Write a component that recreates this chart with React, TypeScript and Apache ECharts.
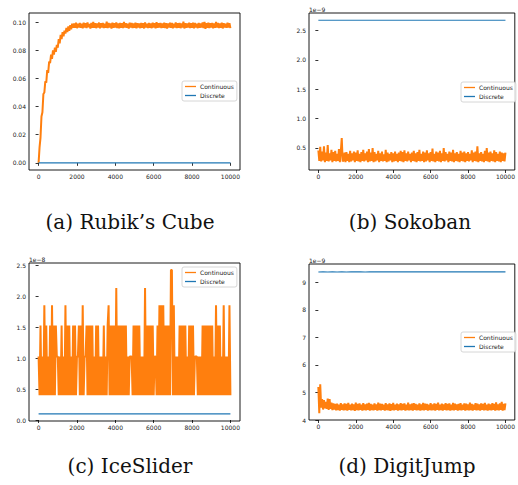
import React, { useEffect, useRef } from 'react';
import * as echarts from 'echarts';

// ---------- data ----------
const STEP = 50; // training step spacing of the sampled curves
const xTicks = [0, 2000, 4000, 6000, 8000, 10000];
const yTicksA = [0, 0.02, 0.04, 0.06, 0.08, 0.1];
const yTicksB = [0.5, 1.0, 1.5, 2.0, 2.5];
const yTicksC = [0, 0.5, 1.0, 1.5, 2.0, 2.5];
const yTicksD = [4, 5, 6, 7, 8, 9];
const captions = ['(a) Rubik\u2019s Cube', '(b) Sokoban', '(c) IceSlider', '(d) DigitJump'];
const offsetTexts = ['', '1e\u22129', '1e\u22128', '1e\u22129'];
const seriesNames = ['Continuous', 'Discrete'];

// Rubik's Cube – continuous
const continuousA = [
  0, 0.011, 0.018, 0.033, 0.036, 0.049, 0.050, 0.058, 0.057, 0.066,
  0.064, 0.072, 0.071, 0.077, 0.074, 0.080, 0.077, 0.082, 0.079, 0.084,
  0.082, 0.088, 0.085, 0.091, 0.088, 0.093, 0.090, 0.094, 0.092, 0.096,
  0.093, 0.097, 0.094, 0.098, 0.095, 0.099, 0.096,
  0.0992, 0.0961, 0.0998, 0.0958, 0.0989, 0.0963, 0.0995, 0.0960, 0.0990, 0.0957,
  0.0997, 0.0962, 0.0993, 0.0959, 0.0999, 0.0964, 0.0988, 0.0956, 0.0996, 0.0961,
  0.1003, 0.0960, 0.0994, 0.0958, 0.0991, 0.0963, 0.0998, 0.0957, 0.0993, 0.0962,
  0.0996, 0.0959, 0.0990, 0.0961, 0.1005, 0.0958, 0.0995, 0.0963, 0.0992, 0.0956,
  0.0997, 0.0960, 0.0993, 0.0962, 0.0999, 0.0959, 0.0991, 0.0957, 0.0996, 0.0961,
  0.0994, 0.0958, 0.1002, 0.0963, 0.0993, 0.0960, 0.0990, 0.0955, 0.0997, 0.0962,
  0.0995, 0.0959, 0.0992, 0.0961, 0.0998, 0.0957, 0.0994, 0.0963, 0.0991, 0.0958,
  0.0996, 0.0960, 0.0993, 0.0956, 0.0999, 0.0962, 0.0990, 0.0959, 0.0995, 0.0961,
  0.0992, 0.0958, 0.0997, 0.0963, 0.0994, 0.0957, 0.1001, 0.0960, 0.0993, 0.0962,
  0.0996, 0.0959, 0.0991, 0.0961, 0.0998, 0.0958, 0.0994, 0.0955, 0.0992, 0.0963,
  0.0997, 0.0960, 0.0995, 0.0957, 0.0990, 0.0962, 0.0999, 0.0959, 0.0993, 0.0961,
  0.0996, 0.0958, 0.0992, 0.0963, 0.1004, 0.0956, 0.0994, 0.0960, 0.0991, 0.0962,
  0.0997, 0.0959, 0.0993, 0.0961, 0.0998, 0.0957, 0.0995, 0.0963, 0.0990, 0.0958,
  0.0996, 0.0960, 0.0992, 0.0962, 0.0999, 0.0959, 0.1002, 0.0954, 0.0994, 0.0961,
  0.0997, 0.0958, 0.0993, 0.0963, 0.0995, 0.0957, 0.0991, 0.0960, 0.1003, 0.0962,
  0.0996, 0.0959, 0.0992, 0.0961, 0.0998, 0.0956, 0.0994, 0.0962, 0.0990, 0.0960,
  0.0997, 0.0963, 0.0993, 0.0958,
];

// Sokoban – continuous (×1e-9)
const continuousB = [
  0.46, 0.28, 0.52, 0.27, 0.44, 0.29, 0.53, 0.26, 0.42, 0.28,
  0.55, 0.27, 0.41, 0.29, 0.47, 0.26, 0.43, 0.28, 0.45, 0.27,
  0.40, 0.28, 0.48, 0.26, 0.44, 0.67, 0.27, 0.29, 0.42, 0.26,
  0.43, 0.28, 0.40, 0.26, 0.45, 0.27, 0.41, 0.29, 0.44, 0.26,
  0.42, 0.28, 0.46, 0.27, 0.40, 0.26, 0.43, 0.28, 0.47, 0.27,
  0.41, 0.29, 0.44, 0.26, 0.48, 0.27, 0.42, 0.28, 0.50, 0.26,
  0.43, 0.27, 0.40, 0.29, 0.45, 0.26, 0.41, 0.28, 0.44, 0.27,
  0.39, 0.28, 0.47, 0.26, 0.42, 0.27, 0.40, 0.29, 0.43, 0.26,
  0.41, 0.27, 0.44, 0.28, 0.40, 0.26, 0.42, 0.28, 0.45, 0.27,
  0.43, 0.26, 0.46, 0.28, 0.41, 0.27, 0.44, 0.29, 0.40, 0.26,
  0.42, 0.28, 0.45, 0.27, 0.41, 0.26, 0.43, 0.28, 0.47, 0.27,
  0.40, 0.28, 0.44, 0.26, 0.42, 0.27, 0.46, 0.29, 0.41, 0.26,
  0.43, 0.28, 0.49, 0.27, 0.40, 0.26, 0.44, 0.28, 0.42, 0.27,
  0.45, 0.26, 0.41, 0.28, 0.50, 0.27, 0.43, 0.29, 0.40, 0.26,
  0.44, 0.28, 0.42, 0.27, 0.47, 0.26, 0.41, 0.28, 0.43, 0.27,
  0.40, 0.26, 0.45, 0.28, 0.42, 0.27, 0.44, 0.26, 0.41, 0.28,
  0.43, 0.27, 0.40, 0.29, 0.46, 0.26, 0.42, 0.28, 0.44, 0.27,
  0.53, 0.26, 0.41, 0.28, 0.43, 0.27, 0.40, 0.26, 0.45, 0.28,
  0.50, 0.27, 0.42, 0.26, 0.44, 0.28, 0.41, 0.27, 0.46, 0.26,
  0.43, 0.28, 0.40, 0.27, 0.44, 0.26, 0.42, 0.28, 0.41, 0.27,
  0.42,
];

// IceSlider – continuous (×1e-8)
const continuousC = [
  1.03, 0.40, 1.53, 0.40, 1.03, 0.40, 1.86, 0.40, 1.53, 0.40,
  1.03, 0.40, 1.53, 0.40, 1.86, 0.40, 1.53, 0.40, 1.53, 1.03,
  1.03, 0.40, 1.03, 0.40, 1.53, 0.40, 1.03, 0.40, 1.86, 0.40,
  1.53, 0.40, 1.53, 0.40, 1.03, 0.40, 1.53, 0.40, 1.53, 0.40,
  1.03, 1.03, 1.53, 0.40, 1.53, 0.40, 1.86, 0.40, 1.03, 1.03,
  1.53, 0.40, 1.53, 0.40, 1.53, 0.40, 1.53, 0.40, 1.03, 0.40,
  1.53, 0.40, 1.53, 0.40, 1.03, 0.40, 1.03, 0.40, 1.53, 0.40,
  1.03, 0.40, 1.53, 1.86, 0.40, 1.53, 0.40, 1.53, 0.40, 1.53,
  0.40, 2.14, 0.40, 1.53, 0.40, 1.53, 0.40, 1.53, 0.40, 1.53,
  0.40, 1.53, 0.40, 1.03, 0.40, 1.03, 1.03, 1.03, 0.40, 1.53,
  0.40, 1.53, 0.40, 1.53, 0.40, 1.53, 0.40, 1.03, 0.40, 1.03,
  0.40, 2.14, 0.40, 1.53, 0.40, 1.53, 0.40, 1.53, 0.40, 1.53,
  0.40, 1.03, 1.03, 0.40, 1.53, 0.40, 1.86, 0.40, 1.86, 0.40,
  1.86, 0.40, 1.53, 0.40, 1.53, 0.40, 1.53, 0.40, 2.43, 2.43,
  0.40, 1.86, 0.40, 1.03, 0.40, 1.03, 0.40, 1.53, 0.40, 1.53,
  0.40, 1.53, 0.40, 1.53, 0.40, 1.03, 0.40, 1.53, 0.40, 1.53,
  0.40, 1.53, 0.40, 1.03, 1.03, 1.03, 0.40, 1.03, 0.40, 1.03,
  0.40, 1.53, 0.40, 1.53, 0.40, 1.53, 0.40, 1.53, 0.40, 1.53,
  0.40, 1.53, 0.40, 1.03, 0.40, 1.86, 0.40, 1.53, 0.40, 1.53,
  0.40, 1.03, 0.40, 1.86, 0.40, 1.03, 0.40, 1.03, 0.40, 1.86,
  0.40,
];

// DigitJump – continuous (×1e-9)
const continuousD = [
  5.20, 4.25, 5.30, 4.45, 4.76, 4.38, 4.72, 4.42, 4.66, 4.40,
  4.78, 4.37, 4.76, 4.40, 4.63, 4.36, 4.60, 4.38, 4.58, 4.35,
  4.59, 4.36, 4.56, 4.34, 4.61, 4.37, 4.57, 4.35, 4.60, 4.36,
  4.58, 4.34, 4.62, 4.37, 4.56, 4.35, 4.59, 4.36, 4.57, 4.33,
  4.63, 4.36, 4.58, 4.35, 4.60, 4.37, 4.56, 4.34, 4.61, 4.36,
  4.57, 4.35, 4.59, 4.37, 4.62, 4.34, 4.58, 4.36, 4.56, 4.35,
  4.60, 4.37, 4.57, 4.34, 4.63, 4.36, 4.59, 4.35, 4.58, 4.37,
  4.56, 4.34, 4.61, 4.36, 4.57, 4.35, 4.60, 4.33, 4.58, 4.36,
  4.62, 4.35, 4.56, 4.37, 4.59, 4.34, 4.57, 4.36, 4.61, 4.35,
  4.58, 4.37, 4.60, 4.34, 4.56, 4.36, 4.63, 4.35, 4.57, 4.36,
  4.59, 4.34, 4.61, 4.37, 4.58, 4.35, 4.56, 4.36, 4.60, 4.34,
  4.57, 4.36, 4.62, 4.35, 4.59, 4.37, 4.58, 4.34, 4.56, 4.36,
  4.61, 4.35, 4.57, 4.36, 4.60, 4.34, 4.58, 4.37, 4.63, 4.35,
  4.56, 4.36, 4.59, 4.34, 4.57, 4.37, 4.61, 4.35, 4.58, 4.36,
  4.60, 4.34, 4.56, 4.36, 4.62, 4.35, 4.59, 4.37, 4.57, 4.34,
  4.58, 4.36, 4.61, 4.35, 4.56, 4.37, 4.60, 4.34, 4.59, 4.36,
  4.57, 4.35, 4.63, 4.36, 4.58, 4.34, 4.56, 4.37, 4.61, 4.35,
  4.59, 4.36, 4.57, 4.34, 4.60, 4.37, 4.58, 4.35, 4.62, 4.36,
  4.56, 4.34, 4.59, 4.36, 4.57, 4.35, 4.61, 4.37, 4.58, 4.34,
  4.64, 4.36, 4.57, 4.35, 4.60, 4.37, 4.66, 4.34, 4.58, 4.36,
  4.60,
];

// Discrete baselines
const discreteSteps = [0, 10000];
const discreteA = [0, 0];
const discreteB = [2.677, 2.677];
const discreteC = [0.1, 0.1];
const discreteDSteps = [0, 250, 500, 750, 1000, 1250, 1500, 1750, 2000, 2250, 2500, 2750, 3000, 10000];
const discreteD = [9.368, 9.381, 9.370, 9.379, 9.372, 9.380, 9.369, 9.378, 9.373, 9.381, 9.371, 9.377, 9.375, 9.375];

// ---------- layout / style ----------
const ORANGE = '#ff7f0e';
const BLUE = '#1f77b4';
const FONT = 'DejaVu Sans';
const SERIF = 'DejaVu Serif';

const grids = [
  { left: 29, top: 13, width: 211, height: 157 },
  { left: 309, top: 13, width: 210, height: 157 },
  { left: 29, top: 263, width: 211, height: 158 },
  { left: 309, top: 264, width: 210, height: 156 },
];
const yRanges = [
  [-0.0051, 0.1066],
  [0.125, 2.8],
  [-0.016, 2.544],
  [4.0, 9.66],
];
const yTicks = [yTicksA, yTicksB, yTicksC, yTicksD];
const yDigits = [2, 1, 1, 0];
const legendPos = [
  { left: 182, top: 81 },
  { left: 461, top: 82 },
  { left: 182, top: 267 },
  { left: 461, top: 332 },
];
const captionPos = [
  [130, 222],
  [410, 222],
  [130, 466],
  [407, 466],
];

const pairs = (xs: number[], ys: number[]) => ys.map((v, i) => [xs[i], v]);
const stepped = (ys: number[]) => ys.map((v, i) => [i * STEP, v]);

export default function App() {
  const ref = useRef<HTMLDivElement>(null);
  useEffect(() => {
    if (!ref.current) return;
    const chart = echarts.init(ref.current, undefined, { renderer: 'svg' });
    const continuous = [continuousA, continuousB, continuousC, continuousD];
    const discrete = [
      pairs(discreteSteps, discreteA),
      pairs(discreteSteps, discreteB),
      pairs(discreteSteps, discreteC),
      pairs(discreteDSteps, discreteD),
    ];
    const axisTick = { show: true, inside: false, length: 3, lineStyle: { color: '#000', width: 0.8 } };
    const labelStyle = { fontSize: 6, color: '#222', fontFamily: FONT, margin: 3 };

    const option: any = {
      animation: false,
      backgroundColor: '#fff',
      grid: grids.map((g) => ({ ...g, show: true, borderColor: '#000', borderWidth: 0.9, backgroundColor: 'transparent' })),
      xAxis: grids.map((_, i) => ({
        type: 'value',
        gridIndex: i,
        min: -500,
        max: 10500,
        axisLine: { show: false },
        splitLine: { show: false },
        axisTick: { ...axisTick, customValues: xTicks },
        axisLabel: { ...labelStyle, customValues: xTicks, formatter: (v: number) => String(v) },
      })),
      yAxis: grids.map((_, i) => ({
        type: 'value',
        gridIndex: i,
        min: yRanges[i][0],
        max: yRanges[i][1],
        axisLine: { show: false },
        splitLine: { show: false },
        axisTick: { ...axisTick, customValues: yTicks[i] },
        axisLabel: { ...labelStyle, customValues: yTicks[i], formatter: (v: number) => v.toFixed(yDigits[i]) },
      })),
      legend: legendPos.map((p) => ({
        ...p,
        orient: 'vertical',
        data: seriesNames,
        icon: 'rect',
        itemWidth: 11,
        itemHeight: 1.3,
        itemGap: 3,
        padding: [2.5, 3, 2.5, 3],
        borderColor: '#cccccc',
        borderWidth: 0.8,
        borderRadius: 2,
        backgroundColor: 'rgba(255,255,255,0.85)',
        textStyle: { fontSize: 6, color: '#222', fontFamily: FONT, padding: [0, 0, 0, -1] },
        selectedMode: false,
      })),
      series: [
        ...continuous.map((c, i) => ({
          name: seriesNames[0],
          type: 'line',
          xAxisIndex: i,
          yAxisIndex: i,
          data: stepped(c),
          showSymbol: false,
          symbol: 'none',
          color: ORANGE,
          lineStyle: { color: ORANGE, width: 2 },
          z: 2,
        })),
        ...discrete.map((d, i) => ({
          name: seriesNames[1],
          type: 'line',
          xAxisIndex: i,
          yAxisIndex: i,
          data: d,
          showSymbol: false,
          symbol: 'none',
          color: BLUE,
          lineStyle: { color: BLUE, width: 1.1 },
          z: 3,
        })),
      ],
      graphic: [
        ...captions.map((t, i) => ({
          type: 'text',
          x: captionPos[i][0],
          y: captionPos[i][1],
          style: {
            text: t,
            align: 'center',
            verticalAlign: 'middle',
            fontSize: 20,
            fontFamily: SERIF,
            fill: '#111',
          },
        })),
        ...offsetTexts.map((t, i) => ({
          type: 'text',
          x: grids[i].left,
          y: grids[i].top - 1,
          style: { text: t, align: 'left', verticalAlign: 'bottom', fontSize: 6, fontFamily: FONT, fill: '#222' },
        })),
      ],
    };
    chart.setOption(option);
    return () => chart.dispose();
  }, []);
  return <div ref={ref} style={{ position: 'fixed', left: 0, top: 0, width: 518, height: 485 }} />;
}
